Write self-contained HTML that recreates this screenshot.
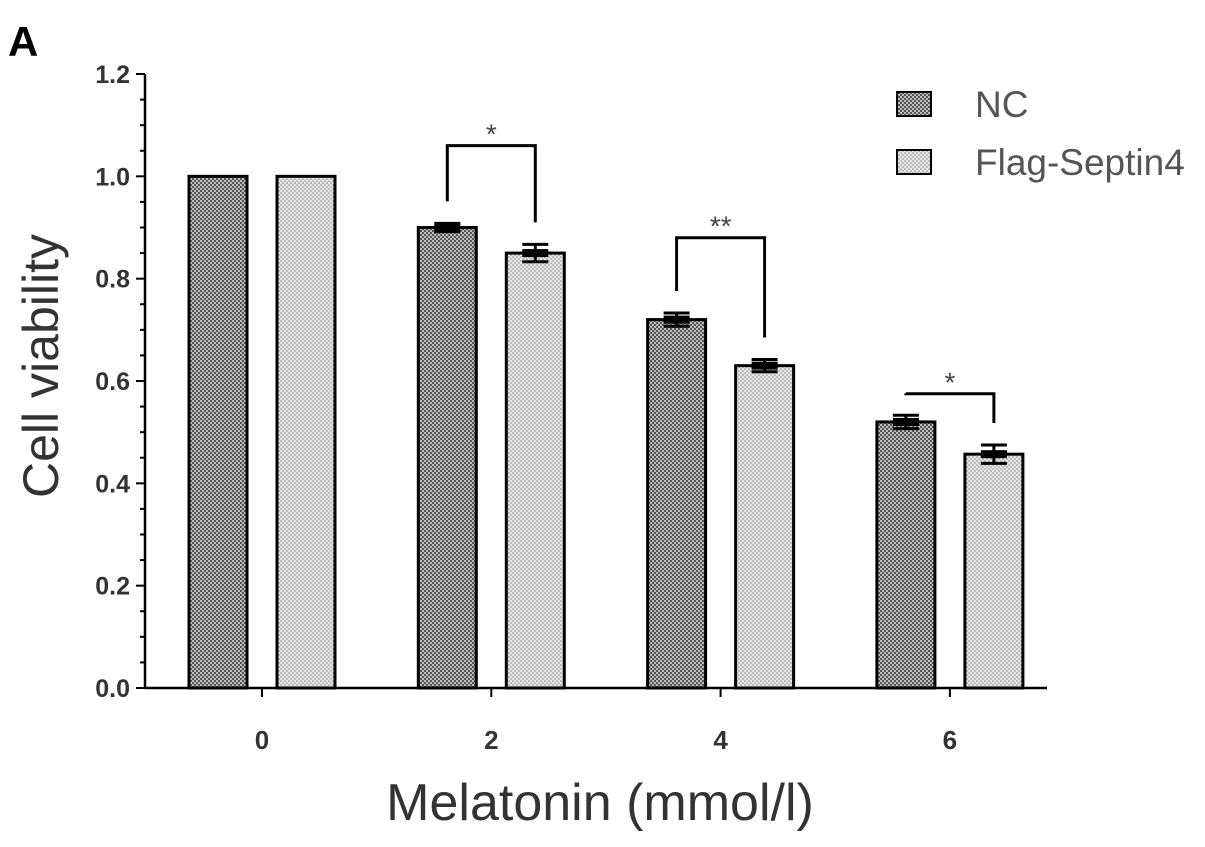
<!DOCTYPE html>
<html><head><meta charset="utf-8"><style>
body{margin:0;background:#fff;}
svg text{font-family:"Liberation Sans",Arial,sans-serif;}
</style></head><body>
<svg width="1205" height="842" viewBox="0 0 1205 842">
<defs>
<pattern id="pNC" width="4" height="4" patternUnits="userSpaceOnUse">
<rect width="4" height="4" fill="#555"/><circle cx="1" cy="1" r="1" fill="#ddd"/><circle cx="3" cy="3" r="1" fill="#ddd"/>
</pattern>
<pattern id="pFS" width="4" height="4" patternUnits="userSpaceOnUse">
<rect width="4" height="4" fill="#e6e6e6"/><circle cx="1" cy="1" r="0.8" fill="#888"/><circle cx="3" cy="3" r="0.8" fill="#888"/>
</pattern>
</defs>
<text x="8" y="56" font-size="42" font-weight="bold">A</text>
<g id="axes"></g>
<g id="bars"></g>
<g id="ann"></g>
<text x="600" y="820" font-size="52" fill="#333" text-anchor="middle">Melatonin (mmol/l)</text>
<text transform="translate(58,366) rotate(-90)" font-size="50" fill="#333" text-anchor="middle">Cell viability</text>
<g>
<rect x="897" y="92" width="34" height="24" fill="url(#pNC)" stroke="#000" stroke-width="2"/>
<text x="975" y="117" font-size="37" fill="#555">NC</text>
<rect x="897" y="150" width="34" height="24" fill="url(#pFS)" stroke="#000" stroke-width="2"/>
<text x="975" y="175" font-size="37" fill="#555">Flag-Septin4</text>
</g>
</svg>
<script>
const categories=["0","2","4","6"];
const ncValues=[1.0,0.90,0.72,0.52];
const ncErr=[0,0.008,0.013,0.013];
const fsValues=[1.0,0.85,0.63,0.457];
const fsErr=[0,0.017,0.012,0.018];
const sigLabels=["","*","**","*"];
const bracketTops=[0,1.06,0.88,0.575];
const yTicks=[0,0.2,0.4,0.6,0.8,1.0,1.2];
const yTickLabels=["0.0","0.2","0.4","0.6","0.8","1.0","1.2"];

const NS="http://www.w3.org/2000/svg";
const y0=688, yTop=74, xL=145, xR=1047;
const yS=v=>y0-(v/1.2)*(y0-yTop);
const xS=i=>262+i*229.3;
const bw=58, off=44;
function mk(tag,attrs,parent){const e=document.createElementNS(NS,tag);for(const k in attrs)e.setAttribute(k,attrs[k]);parent.appendChild(e);return e;}
const axes=document.getElementById('axes'),bars=document.getElementById('bars'),ann=document.getElementById('ann');
let a=mk('line',{x1:xL,y1:yTop,x2:xL,y2:y0,stroke:'#000','stroke-width':2.5},axes);


a=mk('line',{x1:xL,y1:y0,x2:xR,y2:y0,stroke:'#000','stroke-width':2.5},axes);


for(let k=0;k<=24;k++){
  const v=k*0.05;const y=yS(v);const major=k%4===0;
  mk('line',{x1:major?xL-9:xL-5,y1:y,x2:xL,y2:y,stroke:'#000','stroke-width':2},axes);
}
yTicks.forEach((v,i)=>{
  const t=mk('text',{x:xL-15,y:yS(v)+9,'font-size':25,'font-weight':'bold',fill:'#333','text-anchor':'end'},axes);
  t.textContent=yTickLabels[i];
  
  
});
categories.forEach((c,i)=>{
  const x=xS(i);
  mk('line',{x1:x,y1:y0,x2:x,y2:y0+9,stroke:'#000','stroke-width':2},axes);
  const t=mk('text',{x:x,y:y0+61,'font-size':26,'font-weight':'bold',fill:'#333','text-anchor':'middle'},axes);
  t.textContent=c;
  
  
  [[ncValues,ncErr,'url(#pNC)',-off,'nc'],[fsValues,fsErr,'url(#pFS)',off,'flag-septin4']].forEach(([vals,errs,fill,o,nm])=>{
    const cx=x+o,yt=yS(vals[i]);
    const r=mk('rect',{x:cx-bw/2,y:yt,width:bw,height:y0-yt,fill:fill,stroke:'#000','stroke-width':3},bars);
    
    
    if(errs[i]>0){
      const yh=yS(vals[i]+errs[i]),yl=yS(vals[i]-errs[i]);
      mk('line',{x1:cx,y1:yh,x2:cx,y2:yl,stroke:'#000','stroke-width':3},bars);
      mk('line',{x1:cx-13,y1:yh,x2:cx+13,y2:yh,stroke:'#000','stroke-width':3},bars);
      mk('line',{x1:cx-13,y1:yl,x2:cx+13,y2:yl,stroke:'#000','stroke-width':3},bars);
      mk('rect',{x:cx-13,y:yt-4,width:26,height:8,fill:'#000'},bars);
    }
  });
  if(sigLabels[i]){
    const xl=x-off,xr=x+off;
    const top=yS(bracketTops[i]);
    const p=mk('path',{d:`M${xl},${yS(ncValues[i]+ncErr[i])-22} V${top} H${xr} V${yS(fsValues[i]+fsErr[i])-22}`,fill:'none',stroke:'#000','stroke-width':3},ann);
    
    
    const t=mk('text',{x:x,y:top-2,'font-size':28,fill:'#444','text-anchor':'middle'},ann);
    t.textContent=sigLabels[i];
    
    
  }
});
</script>
</body></html>
